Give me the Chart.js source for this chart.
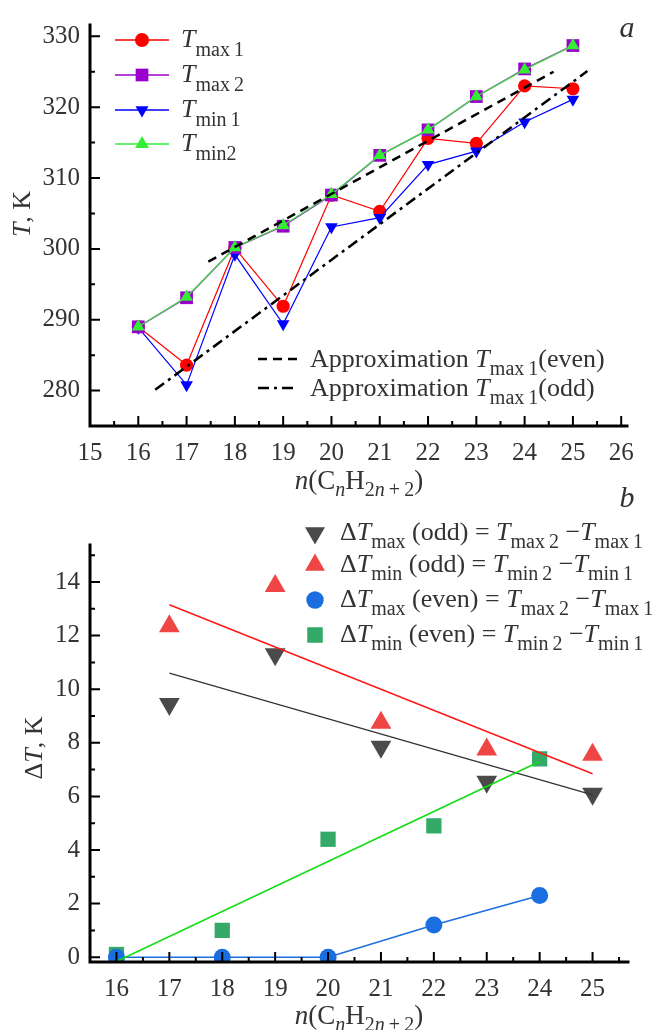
<!DOCTYPE html>
<html><head><meta charset="utf-8">
<script src="https://cdn.jsdelivr.net/npm/chart.js@4/dist/chart.umd.min.js"></script>
<style>
html,body{margin:0;padding:0;background:#fff;overflow:hidden;width:656px;height:1030px}
#c1{position:absolute;left:0;top:0}
#c2{position:absolute;left:0;top:460px}
</style>
</head><body>
<canvas id="c1" width="656" height="500"></canvas>
<canvas id="c2" width="656" height="570"></canvas>
<script>
// ---------- data: panel a ----------
const nTop = [16, 17, 18, 19, 20, 21, 22, 23, 24, 25];
const tMax1 = [289.0, 283.6, 300.1, 291.9, 307.6, 305.3, 315.6, 314.9, 323.0, 322.6];
const tMax2 = [289.0, 293.1, 300.2, 303.2, 307.6, 313.2, 316.8, 321.5, 325.4, 328.7];
const tMin1 = [288.9, 280.8, 299.2, 289.4, 303.1, 304.4, 311.9, 313.8, 317.9, 321.1];
const tMin2 = [289.0, 293.2, 300.2, 303.3, 307.7, 313.2, 316.8, 321.5, 325.3, 328.7];
const approxEvenX = [17.45, 24.6];
const approxEvenY = [298.2, 325.0];
const approxOddX = [16.35, 25.3];
const approxOddY = [280.1, 325.1];
const topXTicks = [15, 16, 17, 18, 19, 20, 21, 22, 23, 24, 25, 26];
const topXMinor = [15.5, 16.5, 17.5, 18.5, 19.5, 20.5, 21.5, 22.5, 23.5, 24.5, 25.5];
const topYTicks = [280, 290, 300, 310, 320, 330];
const topYMinor = [275, 285, 295, 305, 315, 325];

// ---------- data: panel b ----------
const nOdd = [17, 19, 21, 23, 25];
const dTmaxOdd = [9.45, 11.3, 7.85, 6.55, 6.1];
const dTminOdd = [12.35, 13.85, 8.75, 7.75, 7.55];
const nEven = [16, 18, 20, 22, 24];
const dTmaxEven = [0, 0, 0, 1.2, 2.3];
const dTminEven = [0.1, 1.0, 4.4, 4.9, 7.4];
const fitMaxOddX = [17, 25];
const fitMaxOddY = [10.6, 6.06];
const fitMinOddX = [17, 25];
const fitMinOddY = [13.15, 6.84];
const fitMinEvenX = [16, 24];
const fitMinEvenY = [-0.16, 7.3];
const botXTicks = [16, 17, 18, 19, 20, 21, 22, 23, 24, 25];
const botXMinor = [15.5, 16.5, 17.5, 18.5, 19.5, 20.5, 21.5, 22.5, 23.5, 24.5, 25.5];
const botYTicks = [0, 2, 4, 6, 8, 10, 12, 14];
const botYMinor = [1, 3, 5, 7, 9, 11, 13, 15];

const FONT = '"Liberation Serif", "Times New Roman", serif';
const TXT = '#333';
const MAIN = 26, SUB = 20;
const pts = (xs, ys) => xs.map((x, i) => ({x: x, y: ys[i]}));

function drawRich(ctx, parts, x, y, o) {
  o = o || {};
  const size = o.size || MAIN, sub = o.sub || SUB, dy = o.dy || 8;
  const m = []; let w = 0;
  for (const [t, st] of parts) {
    const isSub = st.indexOf('s') >= 0, it = st.indexOf('i') >= 0;
    const f = (it ? 'italic ' : '') + (isSub ? sub : size) + 'px ' + FONT;
    ctx.font = f;
    const pw = ctx.measureText(t).width;
    m.push([t, f, pw, isSub]); w += pw;
  }
  let cx = o.align === 'center' ? x - w / 2 : (o.align === 'right' ? x - w : x);
  ctx.textBaseline = 'alphabetic'; ctx.textAlign = 'left'; ctx.fillStyle = o.color || TXT;
  for (const [t, f, pw, isSub] of m) { ctx.font = f; ctx.fillText(t, cx, y + (isSub ? dy : 0)); cx += pw; }
  return w;
}
function marker(ctx, style, x, y, r, color, down) {
  ctx.save(); ctx.fillStyle = color; ctx.beginPath();
  if (style === 'circle') ctx.arc(x, y, r, 0, 2 * Math.PI);
  else if (style === 'rect') { const s = r * Math.SQRT1_2; ctx.rect(x - s, y - s, 2 * s, 2 * s); }
  else { const d = down ? -1 : 1; ctx.moveTo(x, y - d * r); ctx.lineTo(x + r * 0.866, y + d * r * 0.5); ctx.lineTo(x - r * 0.866, y + d * r * 0.5); ctx.closePath(); }
  ctx.fill(); ctx.restore();
}
function drawAxes(chart, xMaj, xMin, yMaj, yMin) {
  const ctx = chart.ctx, a = chart.chartArea, xs = chart.scales.x, ys = chart.scales.y;
  ctx.save();
  ctx.strokeStyle = '#000'; ctx.lineWidth = 2;
  ctx.beginPath();
  xMaj.forEach(v => { const p = xs.getPixelForValue(v); ctx.moveTo(p, a.bottom); ctx.lineTo(p, a.bottom - 10); });
  xMin.forEach(v => { const p = xs.getPixelForValue(v); ctx.moveTo(p, a.bottom); ctx.lineTo(p, a.bottom - 5); });
  yMaj.forEach(v => { const p = ys.getPixelForValue(v); ctx.moveTo(a.left, p); ctx.lineTo(a.left + 10, p); });
  yMin.forEach(v => { const p = ys.getPixelForValue(v); ctx.moveTo(a.left, p); ctx.lineTo(a.left + 5, p); });
  ctx.stroke();
  ctx.lineWidth = 3; ctx.lineCap = 'square';
  ctx.beginPath();
  ctx.moveTo(a.left, a.top); ctx.lineTo(a.left, a.bottom); ctx.lineTo(a.right, a.bottom);
  ctx.stroke();
  ctx.restore();
}
function scaleOpts(min, max, ticks, sizeKey, size, pad) {
  return {
    type: 'linear', min: min, max: max,
    afterBuildTicks: s => { s.ticks = ticks.map(v => ({value: v})); },
    afterFit: s => { s[sizeKey] = size; },
    grid: {display: false, drawTicks: false},
    border: {display: false},
    ticks: {autoSkip: false, maxRotation: 0, padding: pad, color: TXT,
      font: {family: FONT, size: 25}, callback: v => String(v)}
  };
}
const titleParts = [['n', 'i'], ['(C', ''], ['n', 'si'], ['H', ''], ['2', 's'], ['n', 'si'], ['\u2009+\u20092', 's'], [')', '']];

// ---------- panel a ----------
const decorA = {
  id: 'decorA',
  afterDraw(chart) {
    const ctx = chart.ctx;
    drawAxes(chart, topXTicks, topXMinor, topYTicks, topYMinor);
    ctx.save();
    drawRich(ctx, titleParts, 359, 489, {align: 'center', size: 27, sub: 20, dy: 7});
    ctx.save(); ctx.translate(30, 214); ctx.rotate(-Math.PI / 2);
    drawRich(ctx, [['T', 'i'], [', K', '']], 0, 0, {align: 'center', size: 26});
    ctx.restore();
    drawRich(ctx, [['a', 'i']], 627, 37, {align: 'center', size: 30});
    const leg = [
      ['#ff0000', 'circle', 7, false, 'max\u20091'],
      ['#9900cc', 'rect', 9, false, 'max\u20092'],
      ['#0000ff', 'tri', 7.5, true, 'min\u20091'],
      ['#33ee33', 'tri', 8, false, 'min2']
    ];
    const rows = [40, 75, 110, 144];
    leg.forEach((l, i) => {
      const y = rows[i];
      ctx.strokeStyle = l[0]; ctx.lineWidth = 1.5;
      ctx.beginPath(); ctx.moveTo(115, y); ctx.lineTo(169, y); ctx.stroke();
      marker(ctx, l[1], 142, y, l[2], l[0], l[3]);
      drawRich(ctx, [['T', 'i'], [l[4], 's']], 181, y + 7, {size: 26, sub: 20, dy: 9});
    });
    ctx.strokeStyle = '#000'; ctx.lineWidth = 2.5;
    ctx.setLineDash([9, 6]);
    ctx.beginPath(); ctx.moveTo(258, 359); ctx.lineTo(297, 359); ctx.stroke();
    ctx.setLineDash([11, 5, 3, 5]);
    ctx.beginPath(); ctx.moveTo(258, 388); ctx.lineTo(297, 388); ctx.stroke();
    ctx.setLineDash([]);
    drawRich(ctx, [['Approximation ', ''], ['T', 'i'], ['max\u20091', 's'], ['(even)', '']], 310, 367, {size: 26, sub: 20, dy: 8});
    drawRich(ctx, [['Approximation ', ''], ['T', 'i'], ['max\u20091', 's'], ['(odd)', '']], 310, 396, {size: 26, sub: 20, dy: 8});
    ctx.restore();
  }
};

new Chart(document.getElementById('c1'), {
  type: 'line',
  data: {
    datasets: [
      {data: pts(approxEvenX, approxEvenY), borderColor: '#000', borderWidth: 2.5, borderDash: [9, 6], pointRadius: 0, order: -2},
      {data: pts(approxOddX, approxOddY), borderColor: '#000', borderWidth: 2.5, borderDash: [11, 5, 3, 5], pointRadius: 0, order: -1},
      {data: pts(nTop, tMin2), borderColor: '#44dd44', borderWidth: 1.3, pointStyle: 'triangle', pointRadius: 7.5, pointBackgroundColor: '#33ee33', pointBorderWidth: 0, order: 0},
      {data: pts(nTop, tMax2), borderColor: '#9933cc', borderWidth: 1.5, pointStyle: 'rect', pointRadius: 9, pointBackgroundColor: '#9900cc', pointBorderWidth: 0, order: 1},
      {data: pts(nTop, tMin1), borderColor: '#0000ff', borderWidth: 1.2, pointStyle: 'triangle', pointRotation: 180, pointRadius: 7.3, pointBackgroundColor: '#0000ff', pointBorderWidth: 0, order: 2},
      {data: pts(nTop, tMax1), borderColor: '#ff0000', borderWidth: 1.2, pointStyle: 'circle', pointRadius: 6.6, pointBackgroundColor: '#ff0000', pointBorderWidth: 0, order: 3}
    ]
  },
  options: {
    responsive: false, animation: false, devicePixelRatio: 1,
    layout: {padding: {top: 15, right: 29, left: 0, bottom: 0}},
    plugins: {legend: {display: false}, tooltip: {enabled: false}},
    elements: {line: {tension: 0, fill: false}},
    scales: {
      x: scaleOpts(15, 26.12, topXTicks, 'height', 74, 12),
      y: scaleOpts(275, 331.6, topYTicks, 'width', 90, 10)
    }
  },
  plugins: [decorA]
});

// ---------- panel b ----------
const decorB = {
  id: 'decorB',
  afterDraw(chart) {
    const ctx = chart.ctx;
    drawAxes(chart, botXTicks, botXMinor, botYTicks, botYMinor);
    ctx.save();
    drawRich(ctx, titleParts, 359, 564, {align: 'center', size: 27, sub: 20, dy: 7});
    ctx.save(); ctx.translate(42, 288); ctx.rotate(-Math.PI / 2);
    drawRich(ctx, [['\u0394', ''], ['T', 'i'], [', K', '']], 0, 0, {align: 'center', size: 26});
    ctx.restore();
    drawRich(ctx, [['b', 'i']], 627, 47, {align: 'center', size: 30});
    const rows = [73, 105, 140, 175];
    const leg = [
      ['#4a4a4a', 'tri', 11.5, true, 'max', 'odd', 'max\u20092', 'max\u20091'],
      ['#f04545', 'tri', 11.5, false, 'min', 'odd', 'min\u20092', 'min\u20091'],
      ['#1a6ee0', 'circle', 8.7, false, 'max', 'even', 'max\u20092', 'max\u20091'],
      ['#35aa68', 'rect', 11, false, 'min', 'even', 'min\u20092', 'min\u20091']
    ];
    leg.forEach((l, i) => {
      const y = rows[i];
      marker(ctx, l[1], 315, y, l[2], l[0], l[3]);
      drawRich(ctx, [['\u0394', ''], ['T', 'i'], [l[4], 's'], [' (' + l[5] + ') = ', ''], ['T', 'i'], [l[6], 's'], [' \u2212', ''], ['T', 'i'], [l[7], 's']], 340, y + 7, {size: 26, sub: 20, dy: 8});
    });
    ctx.restore();
  }
};

new Chart(document.getElementById('c2'), {
  type: 'line',
  data: {
    datasets: [
      {data: pts(fitMinEvenX, fitMinEvenY), borderColor: '#11dd11', borderWidth: 1.6, pointRadius: 0, order: 0},
      {data: pts(fitMinOddX, fitMinOddY), borderColor: '#ff1a1a', borderWidth: 1.6, pointRadius: 0, order: 1},
      {data: pts(fitMaxOddX, fitMaxOddY), borderColor: '#333333', borderWidth: 1.3, pointRadius: 0, order: 2},
      {data: pts(nEven, dTmaxEven), borderColor: '#1a6ee0', borderWidth: 1.5, pointStyle: 'circle', pointRadius: 8.5, pointBackgroundColor: '#1a6ee0', pointBorderWidth: 0, order: 3},
      {data: pts(nEven, dTminEven), showLine: false, pointStyle: 'rect', pointRadius: 10.8, pointBackgroundColor: '#35aa68', pointBorderWidth: 0, order: 4},
      {data: pts(nOdd, dTminOdd), showLine: false, pointStyle: 'triangle', pointRadius: 12, pointBackgroundColor: '#f04545', pointBorderWidth: 0, order: 5},
      {data: pts(nOdd, dTmaxOdd), showLine: false, pointStyle: 'triangle', pointRotation: 180, pointRadius: 12, pointBackgroundColor: '#4a4a4a', pointBorderWidth: 0, order: 6}
    ]
  },
  options: {
    responsive: false, animation: false, devicePixelRatio: 1,
    layout: {padding: {top: 85, right: 28, left: 0, bottom: 0}},
    plugins: {legend: {display: false}, tooltip: {enabled: false}},
    elements: {line: {tension: 0, fill: false}},
    scales: {
      x: scaleOpts(15.5, 25.67, botXTicks, 'height', 68, 12),
      y: scaleOpts(-0.18, 15.38, botYTicks, 'width', 90, 10)
    }
  },
  plugins: [decorB]
});
</script>
</body></html>
